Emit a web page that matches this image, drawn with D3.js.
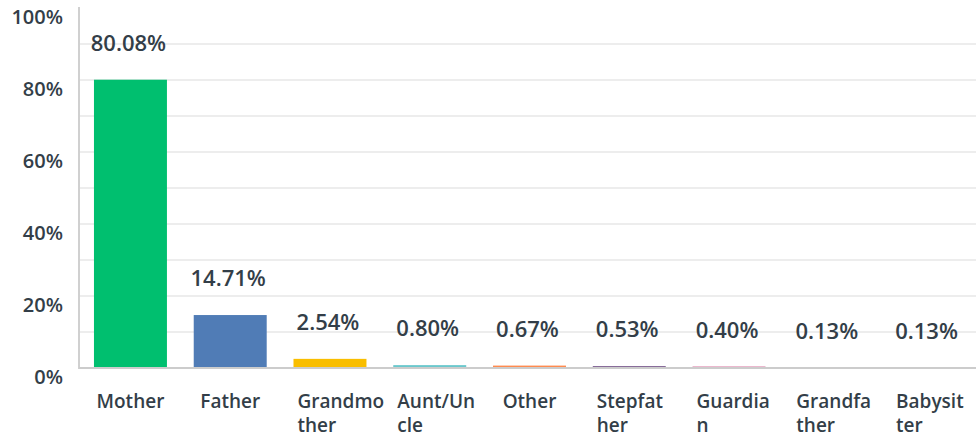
<!DOCTYPE html>
<html>
<head>
<meta charset="utf-8">
<script src="https://cdn.jsdelivr.net/npm/d3@7"></script>
<style>
  html, body { margin: 0; padding: 0; background: #ffffff; }
  svg { display: block; }
  text { font-family: "Open Sans", sans-serif; font-weight: 600; fill: #333e48; }
</style>
</head>
<body>
<svg id="chart" width="976" height="438"></svg>
<script>
const categories = ["Mother", "Father", "Grandmother", "Aunt/Uncle", "Other", "Stepfather", "Guardian", "Grandfather", "Babysitter"];
const values = [80.08, 14.71, 2.54, 0.80, 0.67, 0.53, 0.40, 0.13, 0.13];
const colors = ["#00bf6f", "#507cb6", "#f9be00", "#6bc8cd", "#ff8b4f", "#7d5e90", "#d25f90", "#a8b400", "#9e9e9e"];
const yTicks = [0, 20, 40, 60, 80, 100];
const yGrid = [10, 20, 30, 40, 50, 60, 70, 80, 90];

(function () {
const svg = d3.select("#chart");
const W = 976;
const leftX = 79, topY = 8, bottomY = 368;

const x = d3.scaleBand().domain(categories).range([leftX, 980]).paddingInner(0.2685).paddingOuter(0.15);
const y = d3.scaleLinear().domain([0, 100]).range([bottomY, topY]);

// gridlines
svg.append("g").selectAll("line").data(yGrid).join("line")
  .attr("x1", leftX).attr("x2", W)
  .attr("y1", d => y(d)).attr("y2", d => y(d))
  .attr("stroke", "#ededed").attr("stroke-width", 2);

// y axis line
svg.append("line").attr("x1", leftX).attr("x2", leftX).attr("y1", y(100) - 1).attr("y2", bottomY + 1)
  .attr("stroke", "#d0d0d0").attr("stroke-width", 2);

// y tick labels
const yAxis = d3.axisLeft(y).tickValues(yTicks).tickFormat(d => d + "%").tickSize(0).tickPadding(16);
const ya = svg.append("g").attr("transform", `translate(${leftX},0)`).call(yAxis);
ya.select(".domain").remove();
ya.selectAll("text").attr("dy", "0.71em").attr("y", 1)
  .style("font-family", '"Open Sans", sans-serif').style("font-weight", 600)
  .style("font-size", "20px").style("fill", "#333e48");

// bars
svg.append("g").selectAll("rect").data(values).join("rect")
  .attr("x", (d, i) => x(categories[i]))
  .attr("width", x.bandwidth())
  .attr("y", d => y(d))
  .attr("height", d => bottomY - y(d))
  .attr("fill", (d, i) => colors[i]);

// baseline
svg.append("line").attr("x1", leftX).attr("x2", W).attr("y1", bottomY).attr("y2", bottomY)
  .attr("stroke", "#cccccc").attr("stroke-width", 2);

// value labels
svg.append("g").selectAll("text").data(values).join("text")
  .attr("x", (d, i) => x(categories[i]) + x.bandwidth() / 2 - 2)
  .attr("y", d => y(d) - 29)
  .attr("text-anchor", "middle")
  .style("font-size", "22px")
  .text(d => d.toFixed(2) + "%");

// category labels (wrapped by characters)
function wrap(s, n) {
  const out = [];
  for (let i = 0; i < s.length; i += n) out.push(s.slice(i, i + n));
  return out;
}
const xl = svg.append("g");
categories.forEach((c, i) => {
  const lines = wrap(c, 7);
  const multi = lines.length > 1;
  const t = xl.append("text")
    .attr("text-anchor", multi ? "start" : "middle")
    .style("font-size", "19px");
  const tx = multi ? x(c) + 4 : x(c) + x.bandwidth() / 2;
  lines.forEach((ln, j) => {
    t.append("tspan").attr("x", tx).attr("y", 408 + j * 24).text(ln);
  });
});
})();
</script>
</body>
</html>
